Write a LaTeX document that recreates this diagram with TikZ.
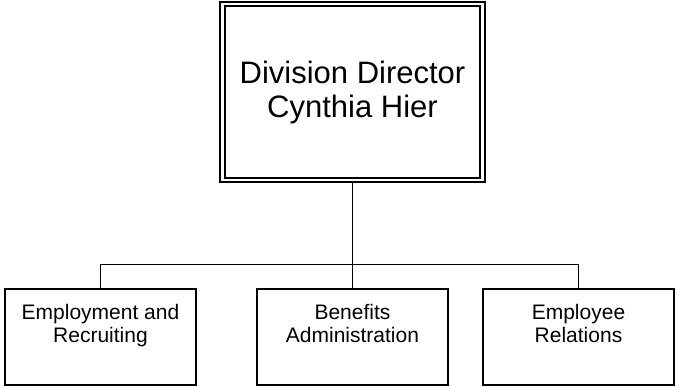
\documentclass[tikz,border=0pt]{standalone}
\usepackage{fontspec}
\setmainfont{Liberation Sans}
\usetikzlibrary{positioning}
\tikzset{head/.style = {draw, line width=1.8pt, double=white, double distance=2.6pt,
                        minimum width=260pt, minimum height=176pt, align=center,
                        font=\fontsize{31}{34}\selectfont}}
\tikzset{unit/.style = {draw, line width=1.5pt, minimum width=191pt, minimum height=96pt,
                        inner sep=0pt, align=center, text depth=27pt,
                        font=\fontsize{21}{23.5}\selectfont}}
\tikzset{link/.style = {line width=1pt}}

\begin{document}
\begin{tikzpicture}[x=1pt, y=-1pt]
      \useasboundingbox (0,0) rectangle (677,387);

      \node[head] (director) at (352.5,92) {Division Director\\Cynthia Hier};

      \node[unit] (employment) at (100.5,337) {Employment and\\Recruiting};
      \node[unit] (benefits) at (352.5,337) {Benefits\\Administration};
      \node[unit] (relations) at (578.5,337) {Employee\\Relations};

      % bus line under the director
      \coordinate (bus) at (352.5,265);
      \draw[link] (director.south) -- (bus);
      \draw[link] (bus) -| (employment.north);
      \draw[link] (bus) -- (benefits.north);
      \draw[link] (bus) -| (relations.north);
    \end{tikzpicture}
\end{document}
